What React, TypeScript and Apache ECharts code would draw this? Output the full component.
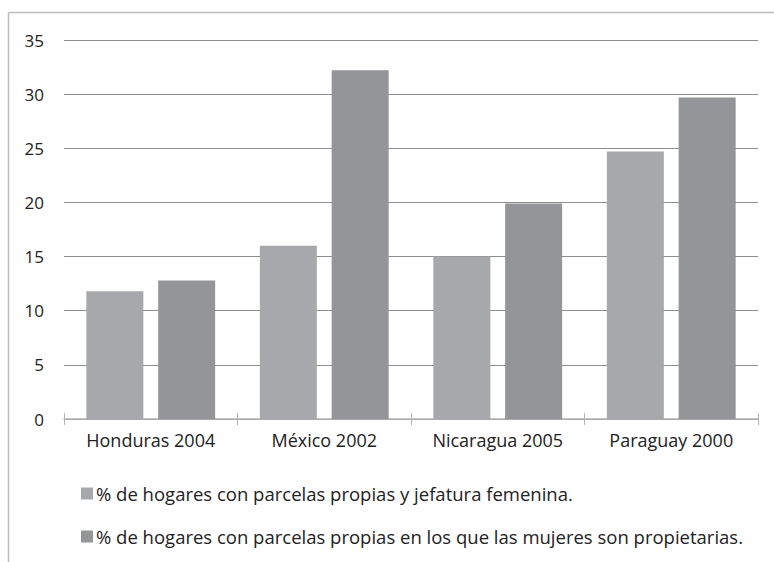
import React, { useEffect, useRef } from "react";
import * as echarts from "echarts";

const categories = ["Honduras 2004", "México 2002", "Nicaragua 2005", "Paraguay 2000"];
const seriesNames = [
  "% de hogares con parcelas propias y jefatura femenina.",
  "% de hogares con parcelas propias en los que las mujeres son propietarias.",
];
const jefaturaFemenina = [11.8, 16.0, 15.0, 24.7];
const mujeresPropietarias = [12.8, 32.2, 19.9, 29.7];

const FONT = "Open Sans";

export default function App() {
  const ref = useRef<HTMLDivElement>(null);
  useEffect(() => {
    if (!ref.current) return;
    const chart = echarts.init(ref.current, null, { renderer: "svg" });
    chart.setOption({
      animation: false,
      backgroundColor: "#ffffff",
      textStyle: { fontFamily: FONT },
      graphic: [
        { type: "line", shape: { x1: 8.5, y1: 12.5, x2: 774, y2: 12.5 }, style: { stroke: "#bdbdbd", lineWidth: 1.5 } },
        { type: "line", shape: { x1: 8.5, y1: 12.5, x2: 8.5, y2: 562 }, style: { stroke: "#bdbdbd", lineWidth: 1.5 } },
      ],
      grid: { left: 64, right: 16, top: 40, bottom: 143, containLabel: false },
      legend: {
        orient: "vertical",
        left: 76,
        top: 479,
        itemGap: 24,
        itemWidth: 12,
        itemHeight: 12,
        icon: "rect",
        textStyle: { fontFamily: FONT, fontSize: 18.5, color: "#222", padding: [0, 0, 0, -2] },
        data: seriesNames,
      },
      xAxis: [
        {
          type: "category",
          data: categories,
          axisLine: { lineStyle: { color: "#b3b3b3", width: 1.5 } },
          axisTick: { show: true, length: 6, lineStyle: { color: "#b3b3b3" } },
          axisLabel: { fontFamily: FONT, fontSize: 18, color: "#222", margin: 12 },
        },
        {
          type: "category",
          data: categories,
          position: "bottom",
          axisLine: { show: false },
          axisTick: { show: true, inside: true, length: 6, lineStyle: { color: "#b3b3b3" } },
          axisLabel: { show: false },
        },
      ],
      yAxis: {
        type: "value",
        min: 0,
        max: 35,
        interval: 5,
        axisLine: { show: false },
        axisTick: { show: false },
        axisLabel: { fontFamily: FONT, fontSize: 17, color: "#222", margin: 20 },
        splitLine: { lineStyle: { color: "#8e8e8e", width: 1 } },
      },
      series: [
        {
          name: seriesNames[0],
          type: "bar",
          data: jefaturaFemenina,
          barWidth: 57,
          barGap: "26%",
          itemStyle: { color: "#a7a8ab" },
        },
        {
          name: seriesNames[1],
          type: "bar",
          data: mujeresPropietarias,
          barWidth: 57,
          itemStyle: { color: "#949598" },
        },
      ],
    });
    return () => chart.dispose();
  }, []);
  return <div ref={ref} style={{ width: 774, height: 562, position: "absolute", left: 0, top: 0 }} />;
}
